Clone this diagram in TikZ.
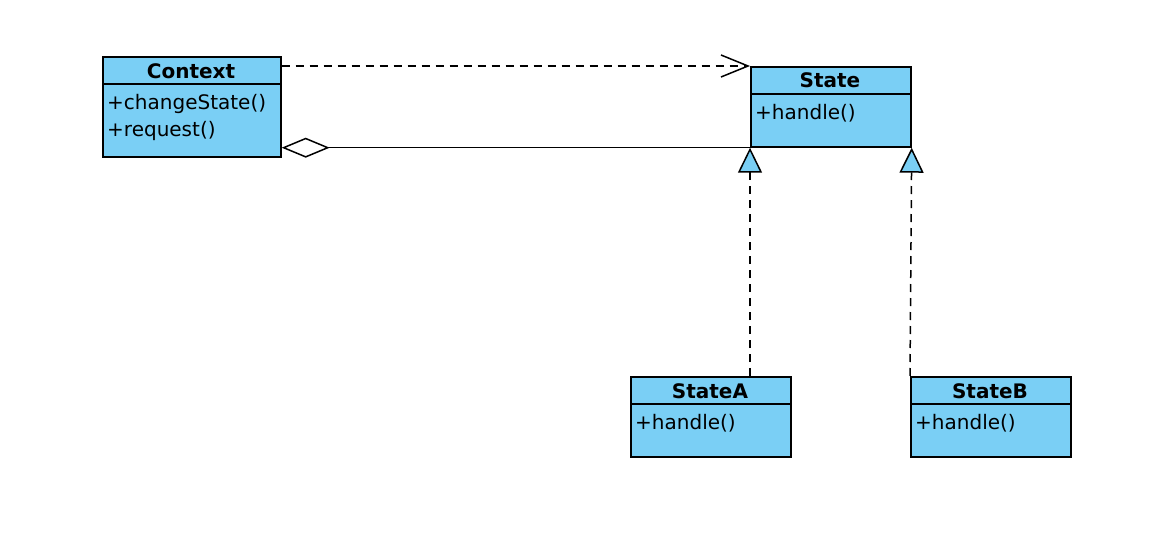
\documentclass[tikz,border=0pt]{standalone}
\usepackage{fontspec}
\setmainfont{DejaVu Sans}
\usetikzlibrary{arrows.meta}
\definecolor{boxfill}{RGB}{122,207,245}
\begin{document}
\begin{tikzpicture}[x=1pt,y=-1pt,
  classbox/.style={draw=black, line width=1.7pt, fill=boxfill, inner sep=0pt, anchor=north west},
  divider/.style={draw=black, line width=1.7pt},
  title/.style={font=\fontsize{20}{24}\selectfont\bfseries, inner sep=0pt},
  member/.style={font=\fontsize{20}{24}\selectfont, inner sep=0pt, anchor=west},
  dep/.style={line width=1.5pt, dash pattern=on 8pt off 6pt, -{Straight Barb[length=27pt,width=22pt,line width=1.5pt]}},
  aggr/.style={line width=1.5pt, -{Diamond[open,fill=white,length=48pt,width=20pt,line width=1.5pt]}},
  real/.style={line width=1.5pt, dash pattern=on 8pt off 6pt, -{Triangle[open,fill=boxfill,length=25pt,width=24pt,line width=1.5pt]}}
]
\path[use as bounding box] (0,0) rectangle (1170,548);

% Context
\node[classbox, minimum width=178pt, minimum height=100pt] (context) at (102,56) {};
\draw[divider] (102,84) -- (280,84);
\node[title] (contextT) at (191,71) {Context};
\node[member] (contextM1) at (107,104) {+changeState()};
\node[member] (contextM2) at (107,131) {+request()};

% State
\node[classbox, minimum width=160pt, minimum height=80pt] (state) at (750,66) {};
\draw[divider] (750,94) -- (910,94);
\node[title] (stateT) at (830,80) {State};
\node[member] (stateM) at (755,113) {+handle()};

% StateA
\node[classbox, minimum width=160pt, minimum height=80pt] (statea) at (630,376) {};
\draw[divider] (630,404) -- (790,404);
\node[title] (stateaT) at (710,391) {StateA};
\node[member] (stateaM) at (635,423) {+handle()};

% StateB
\node[classbox, minimum width=160pt, minimum height=80pt] (stateb) at (910,376) {};
\draw[divider] (910,404) -- (1070,404);
\node[title] (statebT) at (990,391) {StateB};
\node[member] (statebM) at (915,423) {+handle()};

% connectors
\draw[dep] (context.east |- state.north west) -- (state.north west);
\draw[aggr] (state.south west) -- (context.east |- state.south west);
\draw[real] (statea.north -| state.south west) -- (state.south west);
\draw[real] (stateb.north west) -- (state.south east);
\end{tikzpicture}
\end{document}
